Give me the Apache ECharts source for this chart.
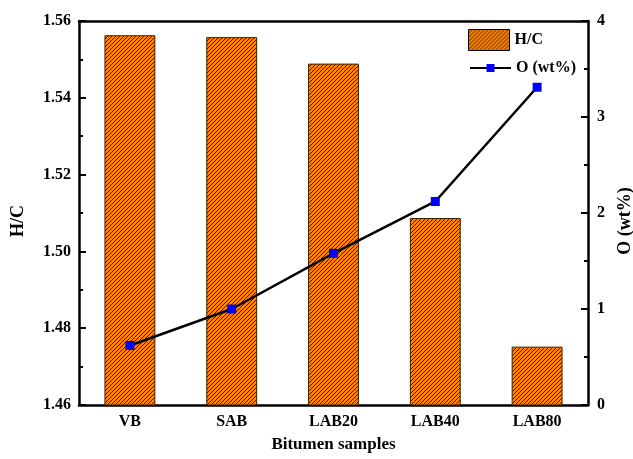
<!DOCTYPE html>
<html><head><meta charset="utf-8">
<script src="https://cdn.jsdelivr.net/npm/echarts@6/dist/echarts.min.js"></script>
<style>html,body{margin:0;padding:0;background:#fff}#c{width:633px;height:459px}</style>
</head><body><div id="c"></div>
<script>
const categories = ['VB', 'SAB', 'LAB20', 'LAB40', 'LAB80'];
const hcValues = [1.5563, 1.5558, 1.5489, 1.5087, 1.4752];
const oValues = [0.62, 1.0, 1.58, 2.12, 3.31];

function hatch() {
  const c = document.createElement('canvas');
  c.width = 4; c.height = 4;
  const g = c.getContext('2d');
  g.fillStyle = '#ff8200';
  g.fillRect(0, 0, 4, 4);
  g.strokeStyle = '#2a1500';
  g.lineWidth = 0.9;
  g.beginPath();
  g.moveTo(-1, 5); g.lineTo(5, -1);
  g.moveTo(-1, 1); g.lineTo(1, -1);
  g.moveTo(3, 5); g.lineTo(5, 3);
  g.stroke();
  return c;
}
const pat = { image: hatch(), repeat: 'repeat' };
const font = 'Liberation Serif';
const legendText = { fontFamily: font, fontWeight: 'bold', fontSize: 16, color: '#000' };
const chart = echarts.init(document.getElementById('c'));
chart.setOption({
  animation: false,
  textStyle: { fontFamily: font },
  grid: { left: 79, right: 45, top: 21, bottom: 54, containLabel: false, outerBoundsMode: 'none' },
  legend: [{
    orient: 'vertical', left: 468, top: 29, itemWidth: 41, itemHeight: 21, padding: 0,
    textStyle: legendText,
    data: [{ name: 'H/C', icon: 'rect', itemStyle: { borderColor: '#000', borderWidth: 1 } }]
  }, {
    orient: 'vertical', left: 469, top: 60, itemWidth: 41, itemHeight: 10, padding: 0,
    textStyle: legendText,
    data: ['O (wt%)']
  }],
  xAxis: [{
    type: 'category', data: categories,
    name: 'Bitumen samples', nameLocation: 'middle', nameGap: 31,
    nameTextStyle: { fontFamily: font, fontWeight: 'bold', fontSize: 17, color: '#000' },
    axisLine: { lineStyle: { color: '#000', width: 2.5 } },
    axisTick: { show: false },
    axisLabel: { fontFamily: font, fontWeight: 'bold', fontSize: 16, color: '#000', margin: 9 }
  }, {
    type: 'category', data: categories, position: 'top',
    axisLine: { lineStyle: { color: '#000', width: 2.5 } },
    axisTick: { show: false }, axisLabel: { show: false }
  }],
  yAxis: [{
    type: 'value', min: 1.46, max: 1.56, interval: 0.02,
    name: 'H/C', nameLocation: 'middle', nameGap: 52, nameRotate: 90,
    nameTextStyle: { fontFamily: font, fontWeight: 'bold', fontSize: 18, color: '#000', padding: [0, 16, 0, 0] },
    axisLine: { show: true, lineStyle: { color: '#000', width: 2.5 } },
    axisTick: { show: true, inside: true, length: 7, lineStyle: { color: '#000', width: 2 } },
    minorTick: { show: true, splitNumber: 2, length: 4, lineStyle: { color: '#000', width: 2 } },
    splitLine: { show: false },
    axisLabel: { fontFamily: font, fontWeight: 'bold', fontSize: 16, color: '#000', margin: 8,
      formatter: v => v.toFixed(2) }
  }, {
    type: 'value', min: 0, max: 4, interval: 1, position: 'right',
    name: 'O (wt%)', nameLocation: 'middle', nameGap: 28, nameRotate: 90,
    nameTextStyle: { fontFamily: font, fontWeight: 'bold', fontSize: 18, color: '#000', padding: [0, 16, 0, 0] },
    axisLine: { show: true, lineStyle: { color: '#000', width: 2.5 } },
    axisTick: { show: true, inside: true, length: 7, lineStyle: { color: '#000', width: 2 } },
    minorTick: { show: true, splitNumber: 2, length: 4, lineStyle: { color: '#000', width: 2 } },
    splitLine: { show: false },
    axisLabel: { fontFamily: font, fontWeight: 'bold', fontSize: 16, color: '#000', margin: 9 }
  }],
  series: [{
    name: 'H/C', type: 'bar', data: hcValues, barWidth: '50%',
    itemStyle: { color: pat, borderColor: '#3a2000', borderWidth: 1 }
  }, {
    name: 'O (wt%)', type: 'line', yAxisIndex: 1, data: oValues,
    symbol: 'rect', symbolSize: 9,
    lineStyle: { color: '#000', width: 2.5 },
    itemStyle: { color: '#0000ff', borderWidth: 0 }
  }]
});
</script></body></html>
